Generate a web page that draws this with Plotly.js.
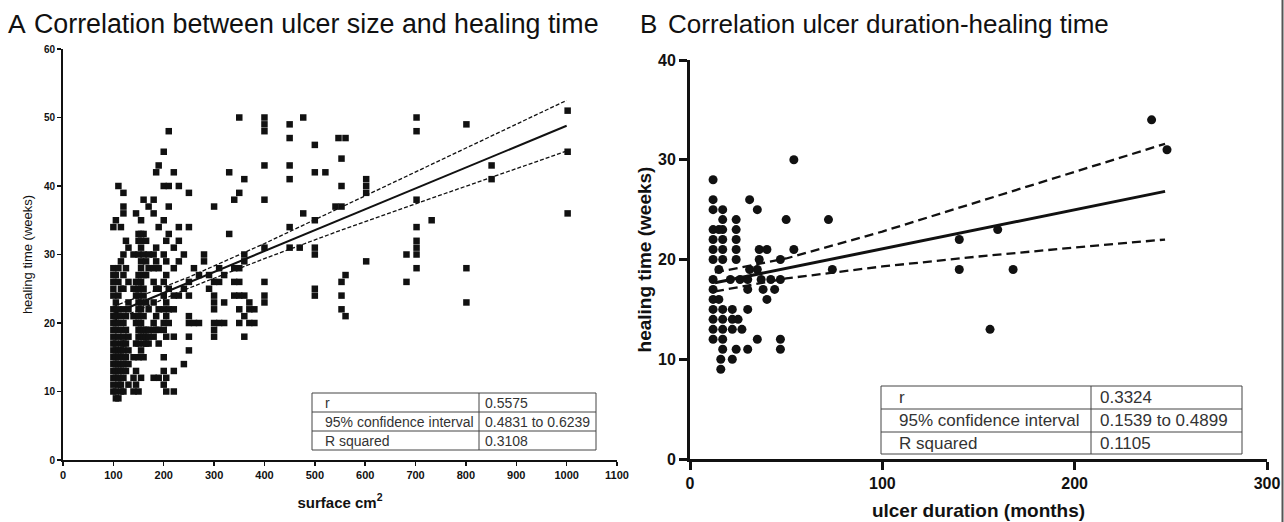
<!DOCTYPE html>
<html><head><meta charset="utf-8">
<script src="https://cdn.plot.ly/plotly-3.0.1.min.js"></script>
<style>html,body{margin:0;padding:0;background:#fff}#chart{width:1284px;height:522px}</style>
</head><body><div id="chart"></div>
<script>
// ---------- Panel A: ulcer surface (cm2) vs healing time (weeks) ----------
const sizeX = [
100,100,100,100,100,100,100,100,100,100,100,100,100,100,100,100,100,100,100,
105,105,105,105,105,105,105,105,105,105,105,105,105,105,
110,110,110,110,110,110,110,110,110,110,110,110,110,110,
115,115,115,115,115,115,115,115,115,115,115,
120,120,120,120,120,120,120,120,120,120,120,120,120,120,120,120,
125,125,125,125,125,125,125,
130,130,130,130,130,130,130,130,
140,140,140,140,140,140,
145,145,145,145,145,145,145,
150,150,150,150,150,150,150,150,150,150,150,150,150,150,150,150,
155,155,155,155,155,155,155,155,155,155,155,155,155,155,155,
160,160,160,160,160,160,160,160,160,160,160,
165,165,165,165,165,165,165,
170,170,170,170,170,170,170,
180,180,180,180,180,180,180,180,180,180,
185,185,185,185,185,185,
190,190,190,190,190,190,190,190,
200,200,200,200,200,200,200,200,200,200,200,200,
205,205,205,205,205,205,205,205,
210,210,210,210,210,210,210,
220,220,220,220,220,220,220,220,
230,230,230,230,230,
240,240,240,
250,250,250,250,250,250,250,250,
260,260, 270,270, 280,280, 290,290,
300,300,300,300,300,300,300,300,
310,310,310, 320,320,320, 330,330,
340,340,340,340,
350,350,350,350,350,350,350,
360,360,360,360,360,360,
370,370,370, 380,380,
400,400,400,400,400,400,400,400,400,
450,450,450,450,450,450,
470, 477,477,
500,500,500,500,500,500,500, 521,
541, 547, 553,553,553,553,553,553, 561,561,561,
602,602,602,602,
682,682, 702,702,702,702,702,702,702,702, 732,
801,801,801, 851,851,
1002,1002,1002
];
const sizeY = [
10,11,12,13,14,15,16,17,18,19,20,21,22,24,25,26,27,28,34,
9,10,12,13,14,15,16,17,19,20,21,23,27,35,
9,11,12,13,14,15,16,18,20,22,24,26,28,40,
10,11,13,14,16,17,19,21,25,29,34,
10,12,13,14,15,16,17,18,20,22,25,27,30,36,37,39,
13,15,17,19,21,28,32,
11,14,16,18,22,23,26,31,
10,12,15,21,25,30,
11,13,17,20,24,26,36,
10,15,17,18,19,20,21,22,23,24,25,26,27,30,32,33,
12,16,18,19,20,22,23,25,26,28,29,31,32,33,35,
15,17,18,19,21,24,25,27,30,33,38,
17,18,19,23,27,29,32,
17,18,19,22,28,30,37,
12,18,19,20,23,26,28,30,36,38,
19,21,25,29,31,42,
12,17,19,22,25,28,34,43,
11,13,15,19,20,22,24,26,30,35,40,45,
10,12,18,21,23,27,29,32,
20,22,25,33,37,40,48,
10,13,18,22,24,28,31,42,
24,29,32,34,40,
14,25,30,
16,18,20,21,24,26,34,39,
20,28, 20,27, 29,30, 25,27,
18,19,20,22,23,24,26,37,
20,26,28, 20,23,27, 33,42,
24,26,28,38,
20,22,24,26,28,39,50,
18,21,24,29,30,41,
20,22,23, 20,22,
23,24,26,31,38,43,48,49,50,
31,34,41,43,47,49,
31, 36,50,
24,25,30,31,35,42,46, 42,
37, 47, 22,24,26,37,40,44, 21,27,47,
29,39,40,41,
26,30, 28,30,31,32,34,38,48,50, 35,
23,28,49, 41,43,
36,45,51
];
// regression line and 95% band
const fitAx = [100, 1000];
const fitAy = [21.35, 48.8];
const bandAx = [100, 250, 400, 550, 700, 850, 1000];
const bandAup = [22.4, 26.7, 31.6, 36.8, 42.0, 47.2, 52.5];
const bandAlo = [20.3, 25.1, 29.4, 33.5, 37.4, 41.2, 45.1];
const tickAx = [0,100,200,300,400,500,600,700,800,900,1000,1100];
const tickAy = [0,10,20,30,40,50,60];
const tableAlabels = ['r', '95% confidence interval', 'R squared'];
const tableAvalues = ['0.5575', '0.4831 to 0.6239', '0.3108'];

// ---------- Panel B: ulcer duration (months) vs healing time (weeks) ----------
const durX = [
12,12,12,12,12,12,12,12,12,12,12,12,12,12,
15,15,15,
17,17,17,17,17,17,17,17,17,17,17,
16,16, 21, 22,22,22,22,
24,24,24,24,24,24, 25, 26, 27,
30,30,30,30, 31,31, 35,35,35, 36,36, 37, 38, 40,40, 42, 44,
47,47,47,47, 50, 54,54, 72, 74,
140,140, 156, 160, 168, 240, 248
];
const durY = [
28,26,25,23,22,21,20,18,17,16,15,14,13,12,
23,19,16,
25,24,23,22,21,20,15,14,13,12,11,
10,9, 18, 15,14,13,10,
24,23,22,21,20,11, 14, 18, 13,
18,17,15,11, 26,19, 25,19,12, 21,20, 18, 17, 21,16, 18, 17,
20,18,12,11, 24, 30,21, 24, 19,
22,19, 13, 23, 19, 34, 31
];
const fitBx = [13, 247];
const fitBy = [17.66, 26.83];
const bandBx = [13, 50, 100, 150, 200, 247];
const bandBup = [18.7, 20.1, 22.8, 25.8, 28.8, 31.6];
const bandBlo = [16.8, 18.1, 19.3, 20.3, 21.2, 22.0];
const tickBx = [0,100,200,300];
const tickBy = [0,10,20,30,40];
const tableBlabels = ['r', '95% confidence interval', 'R squared'];
const tableBvalues = ['0.3324', '0.1539 to 0.4899', '0.1105'];

// ---------- helpers ----------
const W = 1284, H = 522;
const fx = x => x / W;
const fy = y => 1 - y / H;
const FONT = 'Liberation Sans, Arial, Helvetica, sans-serif';
const INK = '#111';

const traces = [
  {x: sizeX, y: sizeY, type: 'scatter', mode: 'markers', xaxis: 'x', yaxis: 'y',
   marker: {symbol: 'square', size: 6.5, color: INK}, cliponaxis: false},
  {x: bandAx, y: bandAup, type: 'scatter', mode: 'lines', xaxis: 'x', yaxis: 'y',
   line: {color: INK, width: 1.3, dash: '4px,2px'}},
  {x: bandAx, y: bandAlo, type: 'scatter', mode: 'lines', xaxis: 'x', yaxis: 'y',
   line: {color: INK, width: 1.3, dash: '4px,2px'}},
  {x: fitAx, y: fitAy, type: 'scatter', mode: 'lines', xaxis: 'x', yaxis: 'y',
   line: {color: INK, width: 2}},
  {x: durX, y: durY, type: 'scatter', mode: 'markers', xaxis: 'x2', yaxis: 'y2',
   marker: {symbol: 'circle', size: 9, color: INK}, cliponaxis: false},
  {x: bandBx, y: bandBup, type: 'scatter', mode: 'lines', xaxis: 'x2', yaxis: 'y2',
   line: {color: INK, width: 2.3, dash: '9px,5px'}},
  {x: bandBx, y: bandBlo, type: 'scatter', mode: 'lines', xaxis: 'x2', yaxis: 'y2',
   line: {color: INK, width: 2.3, dash: '9px,5px'}},
  {x: fitBx, y: fitBy, type: 'scatter', mode: 'lines', xaxis: 'x2', yaxis: 'y2',
   line: {color: INK, width: 3}}
];

const shapes = [];
const annotations = [];

function addTable(left, right, divider, rows, labels, values, size, padL, padR) {
  shapes.push({type: 'rect', xref: 'paper', yref: 'paper', x0: fx(left), x1: fx(right),
    y0: fy(rows[rows.length - 1]), y1: fy(rows[0]), line: {color: '#444', width: 1}, fillcolor: '#fff', layer: 'above'});
  shapes.push({type: 'line', xref: 'paper', yref: 'paper', x0: fx(divider), x1: fx(divider),
    y0: fy(rows[rows.length - 1]), y1: fy(rows[0]), line: {color: '#444', width: 1}, layer: 'above'});
  for (let i = 1; i < rows.length - 1; i++) {
    shapes.push({type: 'line', xref: 'paper', yref: 'paper', x0: fx(left), x1: fx(right),
      y0: fy(rows[i]), y1: fy(rows[i]), line: {color: '#444', width: 1}, layer: 'above'});
  }
  for (let i = 0; i < labels.length; i++) {
    const yc = (rows[i] + rows[i + 1]) / 2;
    annotations.push({xref: 'paper', yref: 'paper', x: fx(left + padL), y: fy(yc), xanchor: 'left', yanchor: 'middle',
      text: labels[i], showarrow: false, font: {family: FONT, size: size, color: '#333'}, borderpad: 0});
    annotations.push({xref: 'paper', yref: 'paper', x: fx(divider + padR), y: fy(yc), xanchor: 'left', yanchor: 'middle',
      text: values[i], showarrow: false, font: {family: FONT, size: size, color: '#333'}, borderpad: 0});
  }
}
addTable(312, 596, 479, [393, 412, 431, 450], tableAlabels, tableAvalues, 14, 12, 5);
addTable(881, 1242, 1091, [386, 409, 432, 454], tableBlabels, tableBvalues, 17, 17, 8);

// panel titles
annotations.push({xref: 'paper', yref: 'paper', x: fx(7), y: fy(24), xanchor: 'left', yanchor: 'middle',
  text: 'A', showarrow: false, font: {family: FONT, size: 26.5, color: INK}, borderpad: 0});
annotations.push({xref: 'paper', yref: 'paper', x: fx(33), y: fy(24), xanchor: 'left', yanchor: 'middle',
  text: 'Correlation between ulcer size and healing time', showarrow: false, font: {family: FONT, size: 26.8, color: INK}, borderpad: 0});
annotations.push({xref: 'paper', yref: 'paper', x: fx(639), y: fy(24), xanchor: 'left', yanchor: 'middle',
  text: 'B', showarrow: false, font: {family: FONT, size: 26, color: INK}, borderpad: 0});
annotations.push({xref: 'paper', yref: 'paper', x: fx(667), y: fy(24), xanchor: 'left', yanchor: 'middle',
  text: 'Correlation ulcer duration-healing time', showarrow: false, font: {family: FONT, size: 26, color: INK}, borderpad: 0});

// right edge border
shapes.push({type: 'line', xref: 'paper', yref: 'paper', x0: fx(1282.5), x1: fx(1282.5), y0: 0, y1: 1,
  line: {color: '#555', width: 2}});

const baseAxis = {showgrid: false, zeroline: false, showline: true, linecolor: INK, ticks: 'outside',
  tickcolor: INK, fixedrange: true, mirror: false};

const layout = {
  width: W, height: H, margin: {l: 0, r: 0, t: 0, b: 0},
  paper_bgcolor: '#fff', plot_bgcolor: 'rgba(0,0,0,0)', showlegend: false,
  font: {family: FONT, color: INK},
  xaxis: Object.assign({}, baseAxis, {domain: [fx(63), fx(617)], range: [0, 1100], anchor: 'y',
    tickmode: 'array', tickvals: tickAx, ticktext: tickAx.map(String), linewidth: 2, ticklen: 4, tickwidth: 1.5,
    tickfont: {family: FONT, size: 11, weight: 'bold', color: INK},
    title: {text: 'surface cm<sup>2</sup>', font: {family: FONT, size: 15, weight: 'bold', color: INK}, standoff: 17}}),
  yaxis: Object.assign({}, baseAxis, {domain: [fy(460), fy(49)], range: [0, 60], anchor: 'x',
    tickmode: 'array', tickvals: tickAy, ticktext: tickAy.map(String), linewidth: 2, ticklen: 4, tickwidth: 1.5,
    tickfont: {family: FONT, size: 10, weight: 'bold', color: INK},
    title: {text: 'healing time (weeks)', font: {family: FONT, size: 13, color: INK}, standoff: 8}}),
  xaxis2: Object.assign({}, baseAxis, {domain: [fx(690), fx(1267)], range: [0, 300], anchor: 'y2',
    tickmode: 'array', tickvals: tickBx, ticktext: tickBx.map(String), linewidth: 3, ticklen: 8, tickwidth: 3,
    tickfont: {family: FONT, size: 16, weight: 'bold', color: INK},
    title: {text: 'ulcer duration (months)', font: {family: FONT, size: 19, weight: 'bold', color: INK}, standoff: 13}}),
  yaxis2: Object.assign({}, baseAxis, {domain: [fy(459), fy(60)], range: [0, 40], anchor: 'x2',
    tickmode: 'array', tickvals: tickBy, ticktext: tickBy.map(String), linewidth: 3, ticklen: 8, tickwidth: 3,
    tickfont: {family: FONT, size: 16, weight: 'bold', color: INK},
    title: {text: 'healing time (weeks)', font: {family: FONT, size: 19, weight: 'bold', color: INK}, standoff: 2}}),
  shapes: shapes,
  annotations: annotations
};

Plotly.newPlot('chart', traces, layout, {displayModeBar: false, staticPlot: true});
</script>
</body></html>
